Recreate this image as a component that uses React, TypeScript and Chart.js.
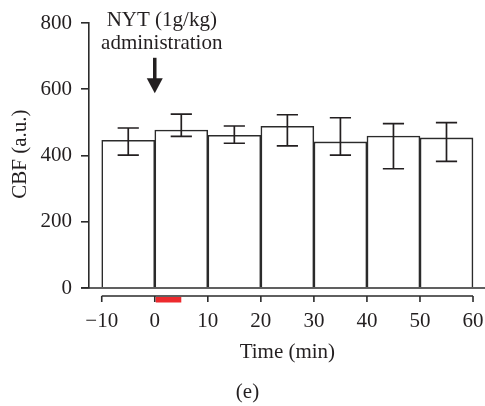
import React, { useEffect, useRef } from "react";
import { Chart, registerables } from "chart.js";

Chart.register(...registerables);

// ---- data ----
const binStarts = [-10, 0, 10, 20, 30, 40, 50];
const binWidth = 10;
const cbfMeans = [446, 477, 461, 488, 441, 459, 453];
const errUpper = [483, 525, 489, 523, 514, 496, 499];
const errLower = [401, 458, 437, 429, 401, 360, 382];
const xTickValues = [-10, 0, 10, 20, 30, 40, 50, 60];
const yTickStep = 200;
const stimulusStart = 0;
const stimulusEnd = 5;
const arrowX = 0;
const arrowFrom = 695;
const arrowTo = 588;
const annotationLines = ["NYT (1g/kg)", "administration"];
const xTitle = "Time (min)";
const yTitle = "CBF (a.u.)";
const panelLabel = "(e)";

const FONT = '"Liberation Serif", "DejaVu Serif", "Times New Roman", serif';
const INK = "#231f20";
const LINE = "#2b2b2b";

export default function App() {
  const ref = useRef<HTMLCanvasElement | null>(null);

  useEffect(() => {
    if (!ref.current) return;
    const points = binStarts.map((s, i) => ({ x: s + binWidth / 2, y: cbfMeans[i] }));

    const decor = {
      id: "decor",
      afterDatasetsDraw(chart: any) {
        const { ctx, scales, chartArea } = chart;
        const xs = scales.x;
        const ys = scales.y;
        ctx.save();
        // error bars
        ctx.strokeStyle = INK;
        ctx.lineWidth = 1.7;
        binStarts.forEach((s, i) => {
          const cx = xs.getPixelForValue(s + binWidth / 2);
          const half = (xs.getPixelForValue(s + binWidth) - xs.getPixelForValue(s)) * 0.2;
          const yt = ys.getPixelForValue(errUpper[i]);
          const yb = ys.getPixelForValue(errLower[i]);
          ctx.beginPath();
          ctx.moveTo(cx, yt);
          ctx.lineTo(cx, yb);
          ctx.moveTo(cx - half, yt);
          ctx.lineTo(cx + half, yt);
          ctx.moveTo(cx - half, yb);
          ctx.lineTo(cx + half, yb);
          ctx.stroke();
        });
        // baseline at 0
        const y0 = ys.getPixelForValue(0);
        ctx.strokeStyle = LINE;
        ctx.lineWidth = 1.6;
        ctx.beginPath();
        ctx.moveTo(chartArea.left - 8, y0);
        ctx.lineTo(chartArea.right, y0);
        ctx.stroke();
        // offset x axis
        const axY = y0 + 8;
        const xa = xs.getPixelForValue(xTickValues[0]);
        const xb = xs.getPixelForValue(xTickValues[xTickValues.length - 1]);
        ctx.beginPath();
        ctx.moveTo(xa, axY);
        ctx.lineTo(xb, axY);
        xTickValues.forEach((v) => {
          const px = xs.getPixelForValue(v);
          ctx.moveTo(px, axY);
          ctx.lineTo(px, axY + 6);
        });
        ctx.stroke();
        // stimulus bar
        ctx.fillStyle = "#ed2a2e";
        const rx0 = xs.getPixelForValue(stimulusStart);
        const rx1 = xs.getPixelForValue(stimulusEnd);
        ctx.fillRect(rx0 + 1, axY + 1, rx1 - rx0 - 1, 5.5);
        // arrow
        const ax = xs.getPixelForValue(arrowX);
        const ay0 = ys.getPixelForValue(arrowFrom);
        const ay1 = ys.getPixelForValue(arrowTo);
        ctx.fillStyle = INK;
        ctx.strokeStyle = INK;
        ctx.lineWidth = 3.5;
        ctx.beginPath();
        ctx.moveTo(ax, ay0);
        ctx.lineTo(ax, ay1 - 12);
        ctx.stroke();
        ctx.beginPath();
        ctx.moveTo(ax - 8, ay1 - 15);
        ctx.lineTo(ax + 8, ay1 - 15);
        ctx.lineTo(ax, ay1);
        ctx.closePath();
        ctx.fill();
        // annotation text
        ctx.font = `21px ${FONT}`;
        ctx.textAlign = "center";
        ctx.textBaseline = "middle";
        ctx.fillText(annotationLines[0], ax + 7, ay0 - 37);
        ctx.fillText(annotationLines[1], ax + 7, ay0 - 14);
        // titles
        const midX = xs.getPixelForValue((xTickValues[0] + xTickValues[xTickValues.length - 1]) / 2);
        ctx.fillText(xTitle, midX, y0 + 64);
        ctx.fillText(panelLabel, chart.width / 2 + 5, y0 + 104);
        ctx.save();
        ctx.translate(20, ys.getPixelForValue(404));
        ctx.rotate(-Math.PI / 2);
        ctx.fillText(yTitle, 0, 0);
        ctx.restore();
        ctx.restore();
      },
    };

    const chart = new Chart(ref.current, {
      type: "bar",
      data: {
        datasets: [
          {
            data: points as any,
            backgroundColor: "#ffffff",
            borderColor: LINE,
            borderWidth: 1.6,
            barPercentage: 1,
            categoryPercentage: 1,
          },
        ],
      },
      options: {
        animation: false,
        responsive: true,
        maintainAspectRatio: false,
        devicePixelRatio: 1,
        layout: { padding: { top: 23, left: 0, right: 0, bottom: 0 } },
        plugins: { legend: { display: false }, tooltip: { enabled: false } },
        scales: {
          x: {
            type: "linear",
            offset: false,
            min: -12.4,
            max: 62.26,
            grid: { display: false },
            border: { display: false },
            afterBuildTicks: (scale: any) => {
              scale.ticks = xTickValues.map((v) => ({ value: v }));
            },
            afterFit: (scale: any) => {
              scale.height = 118;
              scale.paddingLeft = 0;
              scale.paddingRight = 0;
            },
            ticks: {
              autoSkip: false,
              maxRotation: 0,
              padding: 13,
              color: INK,
              font: { family: FONT, size: 21 },
              callback: (v: any) => (Number(v) < 0 ? "\u2212" + Math.abs(Number(v)) : String(v)),
            },
          },
          y: {
            min: 0,
            max: 800,
            grid: { drawOnChartArea: false, tickLength: 8, color: LINE, lineWidth: 1.6 },
            border: { display: true, color: LINE, width: 1.6 },
            afterFit: (scale: any) => {
              scale.width = 89;
              scale.paddingTop = 0;
              scale.paddingBottom = 0;
            },
            ticks: {
              stepSize: yTickStep,
              padding: 9,
              color: INK,
              font: { family: FONT, size: 21 },
            },
          },
        },
      },
      plugins: [decor],
    });
    return () => chart.destroy();
  }, []);

  return (
    <div style={{ position: "fixed", left: 0, top: 0, width: 485, height: 406, background: "#fff" }}>
      <canvas ref={ref} />
    </div>
  );
}
